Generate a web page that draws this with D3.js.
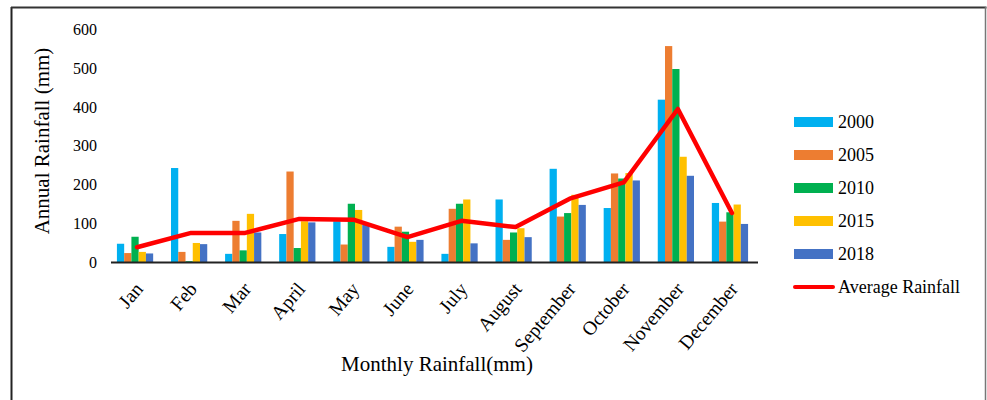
<!DOCTYPE html>
<html>
<head>
<meta charset="utf-8">
<script src="https://cdn.jsdelivr.net/npm/d3@7"></script>
<style>
  html, body { margin: 0; padding: 0; background: #ffffff; }
  svg { display: block; }
  svg text { font-family: "Liberation Serif", "Times New Roman", serif; fill: #000; }
</style>
</head>
<body>
<svg id="chart" width="987" height="400"></svg>
<script>
const months = ["Jan","Feb","Mar","April","May","June","July","August","September","October","November","December"];
const seriesNames = ["2000","2005","2010","2015","2018"];
const rain2000 = [47, 242, 21, 72, 105, 39, 21, 161, 240, 139, 418, 152];
const rain2005 = [23, 26, 106, 233, 45, 91, 137, 57, 117, 228, 556, 104];
const rain2010 = [65, 2, 30, 36, 150, 78, 150, 76, 126, 215, 497, 128];
const rain2015 = [26, 49, 124, 105, 134, 52, 161, 87, 173, 229, 271, 148];
const rain2018 = [22, 46, 76, 102, 96, 57, 48, 64, 147, 210, 222, 98];
const averageRainfall = [38, 75, 75, 111, 109, 64, 106, 90, 163, 205, 394, 126];
const yTicks = [0, 100, 200, 300, 400, 500, 600];
const seriesColors = ["#00B0F0", "#ED7D31", "#00B050", "#FFC000", "#4472C4"];
const lineName = "Average Rainfall";
const lineColor = "#FF0000";

const seriesValues = [rain2000, rain2005, rain2010, rain2015, rain2018];
const SERIF = '"Liberation Serif", "Times New Roman", serif';

const svg = d3.select("#chart");

// frame
svg.append("line").attr("x1", 11.5).attr("x2", 11.5).attr("y1", 7).attr("y2", 400)
  .attr("stroke", "#222").attr("stroke-width", 2);
svg.append("line").attr("x1", 11).attr("x2", 986.5).attr("y1", 7.5).attr("y2", 7.5)
  .attr("stroke", "#333").attr("stroke-width", 2);
svg.append("line").attr("x1", 985.5).attr("x2", 985.5).attr("y1", 7).attr("y2", 400)
  .attr("stroke", "#777").attr("stroke-width", 1.5);

const x0 = d3.scaleBand().domain(months).range([108, 757]).paddingInner(0.33).paddingOuter(0.165);
const x1 = d3.scaleBand().domain(seriesNames).range([0, x0.bandwidth()]);
const y = d3.scaleLinear().domain([0, 600]).range([262, 29]);

// y axis labels
const yAxis = svg.append("g").attr("transform", "translate(97,0)")
  .call(d3.axisLeft(y).tickValues(yTicks).tickSize(0).tickPadding(0))
  .attr("font-family", SERIF).attr("font-size", 16);
yAxis.select(".domain").remove();
yAxis.selectAll("text").attr("fill", "#000").attr("dy", "0.34em");

// bars
const groups = svg.append("g").selectAll("g").data(months).join("g")
  .attr("transform", d => `translate(${x0(d)},0)`);
groups.selectAll("rect")
  .data((m, i) => seriesNames.map((s, j) => ({ s, v: seriesValues[j][i], c: seriesColors[j] })))
  .join("rect")
  .attr("x", d => x1(d.s))
  .attr("width", x1.bandwidth())
  .attr("y", d => y(d.v))
  .attr("height", d => y(0) - y(d.v))
  .attr("fill", d => d.c);

// x axis
const xAxis = svg.append("g").attr("transform", "translate(0,262.5)")
  .call(d3.axisBottom(x0).tickSize(0).tickSizeOuter(0).tickPadding(0))
  .attr("font-family", SERIF).attr("font-size", 19.5);
xAxis.select(".domain").attr("stroke", "#222").attr("stroke-width", 2)
  .attr("d", "M111,0H758");
xAxis.selectAll(".tick text")
  .attr("fill", "#000")
  .attr("text-anchor", "end")
  .attr("dy", 0).attr("y", 0)
  .attr("transform", "translate(9,27) rotate(-50)");

// average line
const line = d3.line().x((d, i) => x0(months[i]) + x0.bandwidth() / 2 + 2).y(d => y(d));
svg.append("path").datum(averageRainfall)
  .attr("d", line).attr("fill", "none").attr("stroke", lineColor)
  .attr("stroke-width", 4.5).attr("stroke-linejoin", "round").attr("stroke-linecap", "round");

// axis titles
svg.append("text").attr("transform", "translate(49,141) rotate(-90)")
  .attr("text-anchor", "middle").attr("font-size", 21).text("Annual Rainfall (mm)");
svg.append("text").attr("x", 437).attr("y", 371)
  .attr("text-anchor", "middle").attr("font-size", 21).text("Monthly Rainfall(mm)");

// legend
const legY = [122, 155, 188, 221, 254];
const leg = svg.append("g").attr("font-size", 18);
seriesNames.forEach((s, j) => {
  leg.append("rect").attr("x", 794).attr("y", legY[j] - 5).attr("width", 39).attr("height", 10).attr("fill", seriesColors[j]);
  leg.append("text").attr("x", 838).attr("y", legY[j] + 6).text(s);
});
leg.append("line").attr("x1", 795).attr("x2", 833).attr("y1", 287).attr("y2", 287)
  .attr("stroke", lineColor).attr("stroke-width", 4).attr("stroke-linecap", "round");
leg.append("text").attr("x", 838).attr("y", 293).text(lineName);
</script>
</body>
</html>
